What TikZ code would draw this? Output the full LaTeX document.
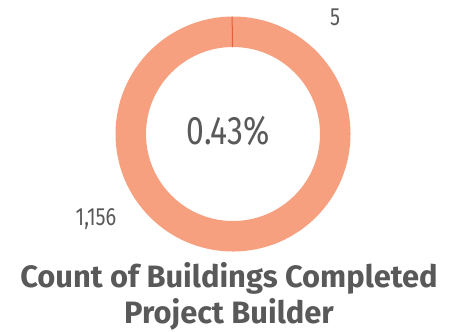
\documentclass[tikz,border=0pt]{standalone}
\usepackage{fontspec}
\setmainfont{Fira Sans}
\newfontfamily\labelfont[FakeStretch=0.8]{Fira Sans}
\usetikzlibrary{positioning,calc}
\definecolor{ringcol}{HTML}{F6A07F}
\definecolor{slicecol}{HTML}{E2603A}
\definecolor{textgray}{HTML}{595959}
\tikzset{
  data label/.style={
    text=textgray,
    font=\labelfont\fontsize{25}{27}\selectfont,
    inner sep=0pt,
  },
  center label/.style={
    text=textgray,
    font=\labelfont\fontsize{40}{44}\selectfont,
    inner sep=0pt,
  },
  chart title/.style={
    text=textgray,
    font=\bfseries\fontsize{31}{36}\selectfont,
    inner sep=0pt,
    anchor=base,
  },
}
\begin{document}
\begin{tikzpicture}[x=1bp,y=-1bp]
        \useasboundingbox (0,0) rectangle (458,331);

        % donut ring
        \coordinate (c) at (233,134);
        \fill[ringcol, even odd rule] (c) circle[radius=117.5] (c) circle[radius=87];
        % small slice
        \draw[slicecol, line width=1bp] ($(c)+(89.6:-87)$) -- ($(c)+(89.6:-117.5)$);

        \node[data label] (small) at (335,17) {5};
        \node[data label] (large) at (96,219) {1,156};
        \node[center label] (pct) at (228,131) {0.43\%};

        \node[chart title] (title1) at (229,287) {Count of Buildings Completed};
        \node[chart title] (title2) at (229,323) {Project Builder};
\end{tikzpicture}
\end{document}
